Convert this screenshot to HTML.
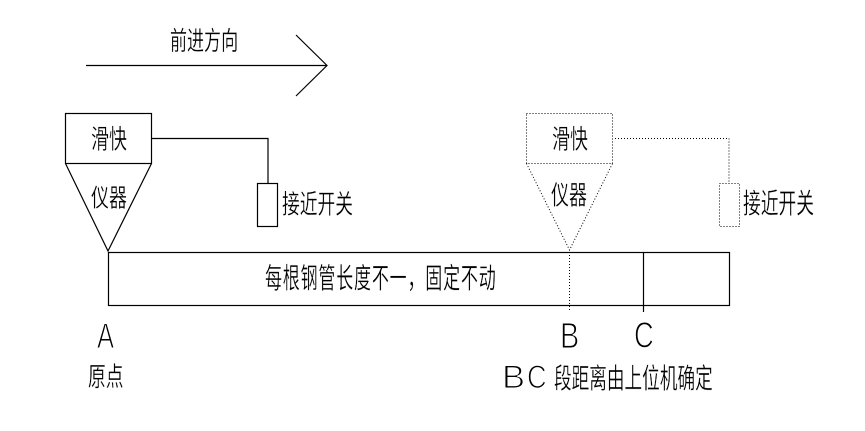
<!DOCTYPE html>
<html><head><meta charset="utf-8">
<style>
html,body{margin:0;padding:0;background:#fff;width:865px;height:431px;overflow:hidden}
svg{display:block}
text{fill:#000;font-weight:400}
.c text{font-family:"WenQuanYi Zen Hei","Noto Sans CJK SC",sans-serif;font-size:24px;stroke:#fff;stroke-width:.25}
.l text{font-family:"Liberation Sans",sans-serif;font-weight:400;stroke:#fff;stroke-width:1.1}
</style></head>
<body>
<svg width="865" height="431" viewBox="0 0 865 431" xmlns="http://www.w3.org/2000/svg">
<rect width="865" height="431" fill="#fff"/>
<g fill="none" stroke="#000" stroke-width="1.2">
<path d="M86 65.5H327M296 35L327 65.5L296 96"/>
<rect x="65.5" y="113.5" width="86" height="50"/>
<path d="M65.5 163.5L108 251L151.5 163.5"/>
<path d="M151.5 138.5H268V183"/>
<rect x="257.5" y="183.5" width="20" height="43"/>
<rect x="108.5" y="252.5" width="621" height="53"/>
<path d="M643.5 252V312"/>
</g>
<g fill="none" stroke="#000" stroke-width="1" stroke-dasharray="1 2">
<rect x="526.5" y="113.5" width="86" height="50"/>
<path d="M526.5 163.5L569.5 250L612.5 163.5"/>
<path d="M615 138.5H729V183"/>
<rect x="719.5" y="183.5" width="20" height="43"/>
<path d="M569.5 252V312"/>
</g>
<g class="c">
<text transform="translate(170 50) scale(.71 1.1)">前进方向</text>
<text transform="translate(91 148.5) scale(.75 1.12)">滑快</text>
<text transform="translate(91 206.5) scale(.75 1.05)">仪器</text>
<text transform="translate(282 213.5) scale(.74 1.12)">接近开关</text>
<text transform="translate(552 148.5) scale(.75 1.12)">滑快</text>
<text transform="translate(551 204.5) scale(.75 1.12)">仪器</text>
<text transform="translate(743 213) scale(.74 1.15)">接近开关</text>
<text transform="translate(265 288) scale(.71 1.18)" textLength="325">每根钢管长度不一，固定不动</text>
<text transform="translate(88 386) scale(.74 1.12)">原点</text>
<text transform="translate(554 388) scale(.735 1.15)">段距离由上位机确定</text>
</g>
<g class="l">
<text font-size="35" transform="translate(97 348) scale(.73 1)">A</text>
<text font-size="36" transform="translate(560 348) scale(.8 1)">B</text>
<text font-size="36" transform="translate(634 347.5) scale(.76 1)">C</text>
<text font-size="32" transform="translate(502 388) scale(1.08 1)">B</text>
<text font-size="32" transform="translate(527 388) scale(.85 1)">C</text>
</g>
</svg>
</body></html>
